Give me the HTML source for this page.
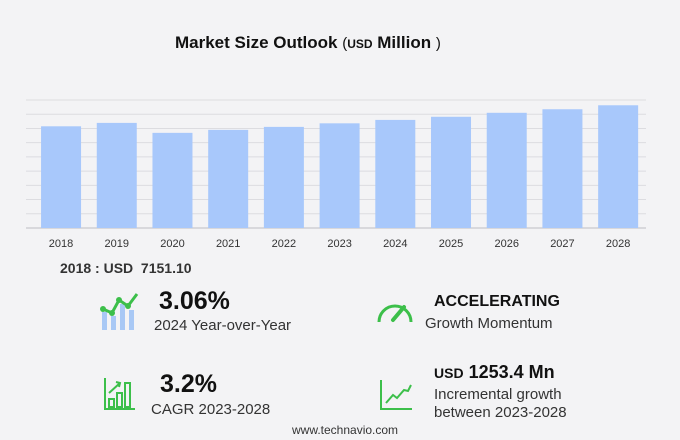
<!DOCTYPE html>
<html><head><meta charset="utf-8"><style>
body{margin:0;width:680px;height:440px;background:#f3f3f5;font-family:"Liberation Sans",sans-serif;overflow:hidden;position:relative}
.t{position:absolute;white-space:nowrap;color:#222}
</style></head><body>
<div class="t" style="left:175px;top:33px;font-size:17px;font-weight:bold;color:#111">Market Size Outlook <span style="font-weight:normal;font-size:15px">(</span><span style="font-size:12px;font-weight:bold">USD</span> Million <span style="font-weight:normal;font-size:15px">)</span></div>
<svg id="chart" width="680" height="260" style="position:absolute;left:0;top:0"></svg>
<div class="t" style="left:60px;top:260px;font-size:14px;font-weight:bold;color:#333">2018 : USD&nbsp; 7151.10</div>

<svg style="position:absolute;left:99px;top:292px" width="42" height="40">
<rect x="3" y="20" width="5" height="18" fill="#a8c8f5"/><rect x="12" y="24" width="5" height="14" fill="#a8c8f5"/><rect x="21" y="12" width="5" height="26" fill="#a8c8f5"/><rect x="30" y="18" width="5" height="20" fill="#a8c8f5"/>
<polyline points="4,17 13,21 20,8 29,14 38,2" fill="none" stroke="#3cbf4a" stroke-width="3"/>
<circle cx="4" cy="17" r="3" fill="#3cbf4a"/><circle cx="13" cy="21" r="3" fill="#3cbf4a"/><circle cx="20" cy="8" r="3" fill="#3cbf4a"/><circle cx="29" cy="14" r="3" fill="#3cbf4a"/></svg>
<div class="t" style="left:159px;top:287px;font-size:25px;font-weight:bold;color:#111">3.06%</div>
<div class="t" style="left:154px;top:317px;font-size:15px;color:#333">2024 Year-over-Year</div>

<svg style="position:absolute;left:376px;top:298px" width="38" height="26">
<path d="M3,24 A16,16 0 0 1 35,24" fill="none" stroke="#3cbf4a" stroke-width="3"/><line x1="17" y1="22" x2="28" y2="9" stroke="#3cbf4a" stroke-width="4" stroke-linecap="round"/></svg>
<div class="t" style="left:434px;top:293px;font-size:16px;font-weight:bold;color:#111">ACCELERATING</div>
<div class="t" style="left:425px;top:315px;font-size:15px;color:#333">Growth Momentum</div>

<svg style="position:absolute;left:104px;top:377px" width="32" height="34">
<g fill="none" stroke="#3cbf4a" stroke-width="2"><polyline points="1,1 1,32 31,32"/><rect x="5" y="22" width="5" height="8"/><rect x="13" y="16" width="5" height="14"/><rect x="21" y="6" width="5" height="24"/><polyline points="5,16 16,6"/><polyline points="12,5 16,6 15,10"/></g></svg>
<div class="t" style="left:160px;top:370px;font-size:25px;font-weight:bold;color:#111">3.2%</div>
<div class="t" style="left:151px;top:401px;font-size:15px;color:#333">CAGR 2023-2028</div>

<svg style="position:absolute;left:380px;top:379px" width="34" height="32">
<g fill="none" stroke="#3cbf4a" stroke-width="2"><polyline points="1,1 1,30 32,30"/><polyline points="6,24 13,16 17,19 24,11 28,12 31,6"/></g></svg>
<div class="t" style="left:434px;top:362px;font-size:18px;font-weight:bold;color:#111"><span style="font-size:14px">USD</span> 1253.4 Mn</div>
<div class="t" style="left:434px;top:386px;font-size:15px;color:#333;line-height:18px">Incremental growth<br>between 2023-2028</div>
<div class="t" style="left:292px;top:423px;font-size:12px;color:#333">www.technavio.com</div>
<script>
const years=["2018","2019","2020","2021","2022","2023","2024","2025","2026","2027","2028"];
const values=[7151,7390,6690,6900,7110,7360,7600,7820,8100,8350,8630];
const gridTicks=[0,1000,2000,3000,4000,5000,6000,7000,8000,9000];
const svgEl=document.getElementById('chart');const NS='http://www.w3.org/2000/svg';
const gridX0=26,gridX1=646,bandX0=33.2,bandX1=646,plotBase=228,plotTop=100,maxV=9000;
function yScale(v){return plotBase-(v/maxV)*(plotBase-plotTop);}
const step=(bandX1-bandX0)/years.length;
function xc(i){return bandX0+step*(i+0.5);}
gridTicks.forEach(t=>{const l=document.createElementNS(NS,'line');


l.setAttribute('x1',gridX0);l.setAttribute('x2',gridX1);l.setAttribute('y1',yScale(t));l.setAttribute('y2',yScale(t));
l.setAttribute('stroke',t===0?'#cfcfd4':'#dcdce0');l.setAttribute('stroke-width',t===0?1.5:1);svgEl.appendChild(l);});
years.forEach((yr,i)=>{const r=document.createElementNS(NS,'rect');


r.setAttribute('x',xc(i)-20);r.setAttribute('width',40);r.setAttribute('y',yScale(values[i]));r.setAttribute('height',plotBase-yScale(values[i]));r.setAttribute('fill','#a8c8fb');svgEl.appendChild(r);
const tx=document.createElementNS(NS,'text');


tx.setAttribute('x',xc(i));tx.setAttribute('y',247);tx.setAttribute('text-anchor','middle');tx.setAttribute('font-size','11');tx.setAttribute('fill','#333');tx.setAttribute('font-family','Liberation Sans, sans-serif');tx.textContent=yr;svgEl.appendChild(tx);});
</script>
</body></html>
